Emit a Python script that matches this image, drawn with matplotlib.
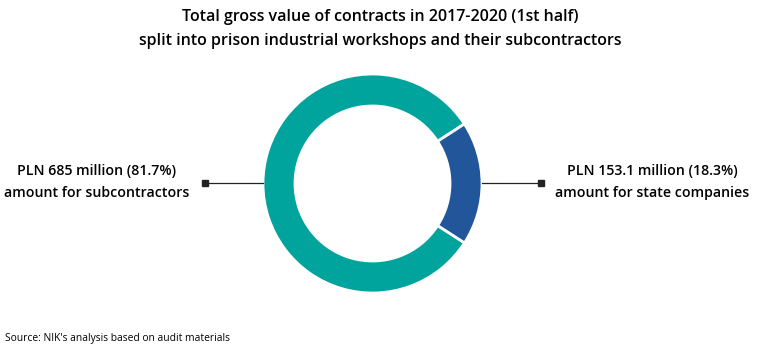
import matplotlib.pyplot as plt

# data
labels = ["amount for subcontractors", "amount for state companies"]
values = [685.0, 153.1]
shares = [81.7, 18.3]
colors = ["#00a49c", "#21569a"]

W, H = 760, 354
fig = plt.figure(figsize=(W / 100, H / 100), dpi=100)
ax = fig.add_axes([0, 0, 1, 1])

cx, cy, r = 372.5, H - 183.5, 109.5
# blue wedge centred on the right side
start = shares[1] / 100 * 360 / 2
ax.pie(values, colors=colors, center=(cx, cy), radius=r, startangle=start,
       counterclock=True, wedgeprops=dict(width=32, edgecolor="white", linewidth=2.0),
       frame=True)
ax.set_xlim(0, W)
ax.set_ylim(0, H)
ax.set_aspect("equal")
ax.axis("off")

font = "Open Sans"
ax.text(380, H - 17, "Total gross value of contracts in 2017-2020 (1st half)",
        ha="center", va="center", fontsize=11.5, fontweight="semibold", family=font)
ax.text(380, H - 41, "split into prison industrial workshops and their subcontractors",
        ha="center", va="center", fontsize=11.5, fontweight="semibold", family=font)

# leader lines
ly = H - 183
ax.plot([205, cx - r], [ly, ly], color="#222222", lw=0.9)
ax.plot([205], [ly], marker="s", color="#222222", ms=4.5)
ax.plot([cx + r, 541], [ly, ly], color="#222222", lw=0.9)
ax.plot([541], [ly], marker="s", color="#222222", ms=4.5)

ax.text(97, H - 171, f"PLN {values[0]:.0f} million ({shares[0]}%)", ha="center", va="center",
        fontsize=10.2, fontweight="semibold", family=font)
ax.text(97, H - 193, labels[0], ha="center", va="center",
        fontsize=10.2, fontweight="semibold", family=font)
ax.text(652, H - 171, f"PLN {values[1]} million ({shares[1]}%)", ha="center", va="center",
        fontsize=10.2, fontweight="semibold", family=font)
ax.text(652, H - 193, labels[1], ha="center", va="center",
        fontsize=10.2, fontweight="semibold", family=font)

ax.text(5, H - 338, "Source: NIK's analysis based on audit materials", ha="left", va="center",
        fontsize=7.4, family=font)

fig.savefig("out.png", dpi=100)
